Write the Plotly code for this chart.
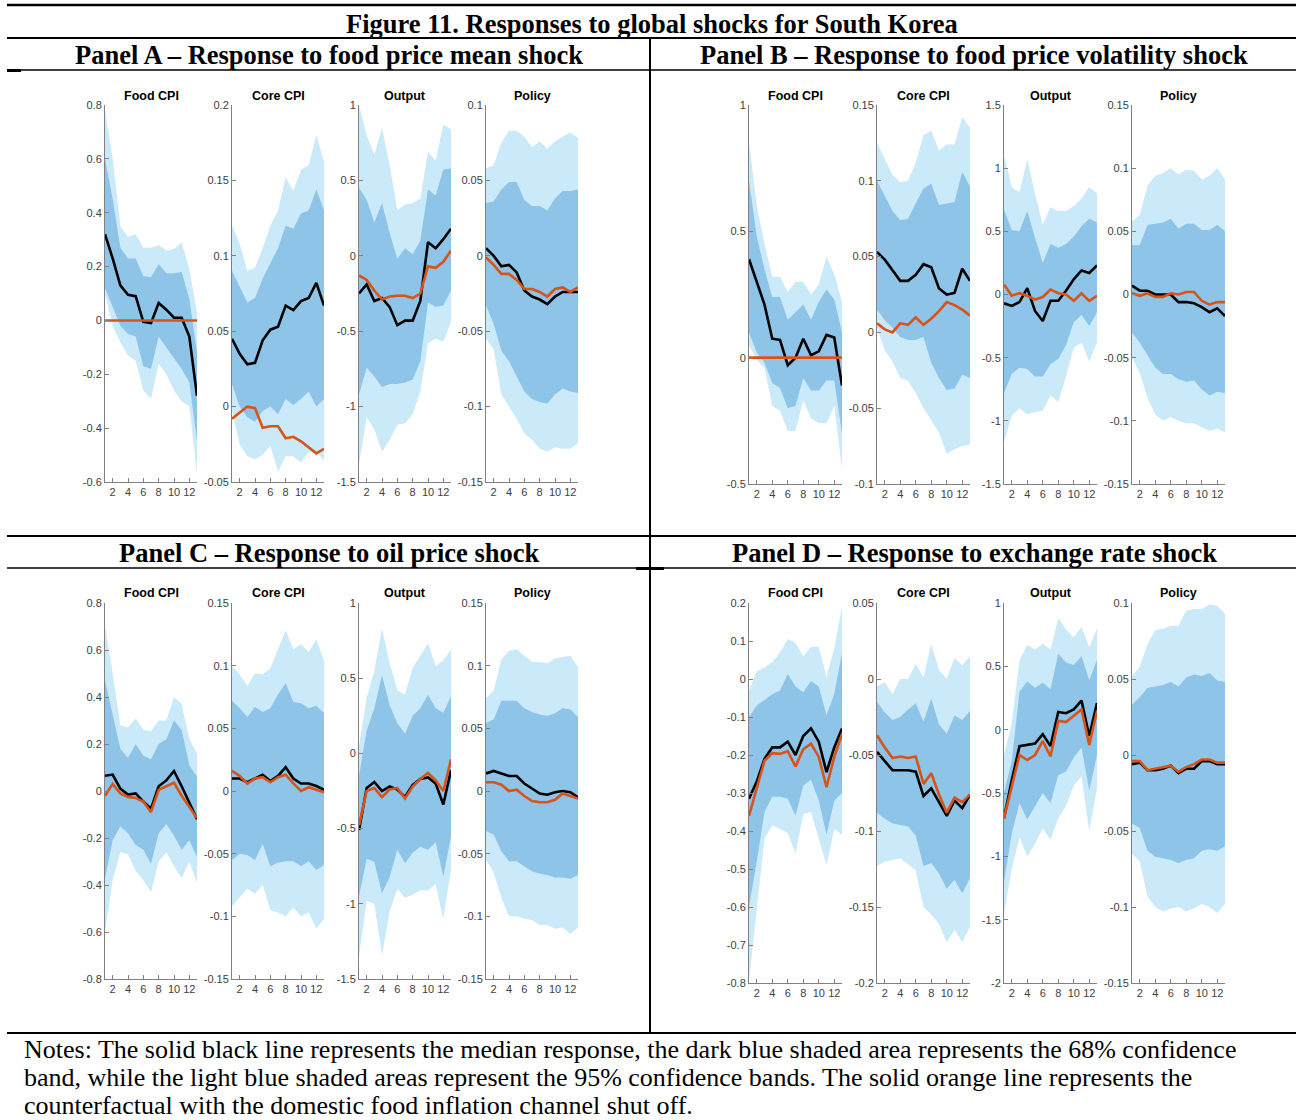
import plotly.graph_objects as go

W, H = 1296, 1120

horizon = list(range(1, 14))
x_tick_vals = [2, 4, 6, 8, 10, 12]

figure_title = "Figure 11. Responses to global shocks for South Korea"
panel_titles = [
    "Panel A – Response to food price mean shock",
    "Panel B – Response to food price volatility shock",
    "Panel C – Response to oil price shock",
    "Panel D – Response to exchange rate shock",
]
variable_titles = ["Food CPI", "Core CPI", "Output", "Policy"]
notes_lines = [
    "Notes: The solid black line represents the median response, the dark blue shaded area represents the 68% confidence",
    "band, while the light blue shaded areas represent the 95% confidence bands. The solid orange line represents the",
    "counterfactual with the domestic food inflation channel shut off.",
]

# ---------------- Panel A: food price mean shock ----------------
A_food_hi95 = [0.78, 0.60, 0.35, 0.31, 0.32, 0.27, 0.27, 0.28, 0.26, 0.265, 0.29, 0.19, 0.03]
A_food_hi68 = [0.60, 0.45, 0.27, 0.23, 0.23, 0.165, 0.16, 0.21, 0.175, 0.175, 0.18, 0.08, -0.12]
A_food_lo68 = [0.12, 0.05, -0.02, -0.05, -0.06, -0.17, -0.18, -0.06, -0.10, -0.14, -0.18, -0.23, -0.45]
A_food_lo95 = [0.10, -0.02, -0.08, -0.13, -0.15, -0.26, -0.29, -0.16, -0.20, -0.26, -0.30, -0.32, -0.57]
A_food_med = [0.32, 0.23, 0.13, 0.095, 0.09, -0.005, -0.01, 0.065, 0.04, 0.01, 0.01, -0.06, -0.28]
A_food_cf = [0, 0, 0, 0, 0, 0, 0, 0, 0, 0, 0, 0, 0]

A_core_hi95 = [0.12, 0.108, 0.09, 0.092, 0.105, 0.12, 0.13, 0.152, 0.143, 0.157, 0.16, 0.18, 0.162]
A_core_hi68 = [0.09, 0.08, 0.069, 0.072, 0.085, 0.095, 0.105, 0.12, 0.118, 0.128, 0.13, 0.144, 0.13]
A_core_lo68 = [0.015, 0.0, -0.007, -0.01, -0.003, 0.0, -0.005, 0.005, 0.001, 0.005, 0.01, 0.0, 0.005]
A_core_lo95 = [-0.002, -0.025, -0.033, -0.035, -0.032, -0.026, -0.043, -0.033, -0.033, -0.037, -0.03, -0.03, -0.036]
A_core_med = [0.045, 0.035, 0.028, 0.029, 0.044, 0.051, 0.053, 0.067, 0.064, 0.07, 0.072, 0.082, 0.067]
A_core_cf = [-0.008, -0.004, 0.0, -0.001, -0.014, -0.013, -0.013, -0.021, -0.02, -0.023, -0.027, -0.031, -0.028]

A_out_hi95 = [1.0, 0.8, 0.67, 0.85, 0.6, 0.3, 0.34, 0.35, 0.38, 0.69, 0.63, 0.87, 0.84]
A_out_hi68 = [0.45, 0.37, 0.22, 0.35, 0.15, -0.02, 0.05, 0.01, 0.1, 0.44, 0.4, 0.57, 0.58]
A_out_lo68 = [-0.92, -0.74, -0.8, -0.87, -0.85, -0.85, -0.84, -0.82, -0.7, -0.31, -0.34, -0.33, -0.23]
A_out_lo95 = [-1.38, -1.07, -1.15, -1.3, -1.22, -1.12, -1.11, -1.05, -0.9, -0.58, -0.55, -0.57, -0.44]
A_out_med = [-0.25, -0.19, -0.3, -0.28, -0.34, -0.46, -0.43, -0.43, -0.3, 0.09, 0.05, 0.11, 0.18]
A_out_cf = [-0.13, -0.16, -0.23, -0.29, -0.27, -0.265, -0.265, -0.28, -0.25, -0.07, -0.08, -0.04, 0.035]

A_pol_hi95 = [0.058, 0.06, 0.075, 0.083, 0.083, 0.079, 0.072, 0.076, 0.071, 0.076, 0.079, 0.082, 0.078]
A_pol_hi68 = [0.035, 0.036, 0.044, 0.049, 0.049, 0.037, 0.033, 0.033, 0.03, 0.038, 0.043, 0.043, 0.044]
A_pol_lo68 = [-0.033, -0.045, -0.063, -0.07, -0.08, -0.09, -0.095, -0.097, -0.098, -0.092, -0.088, -0.09, -0.091]
A_pol_lo95 = [-0.055, -0.062, -0.092, -0.1, -0.108, -0.118, -0.122, -0.128, -0.13, -0.127, -0.128, -0.128, -0.124]
A_pol_med = [0.005, 0.0, -0.007, -0.006, -0.011, -0.023, -0.027, -0.029, -0.032, -0.027, -0.024, -0.024, -0.024]
A_pol_cf = [-0.001, -0.006, -0.012, -0.012, -0.016, -0.022, -0.022, -0.024, -0.027, -0.022, -0.021, -0.024, -0.021]

# ---------------- Panel B: food price volatility shock ----------------
B_food_hi95 = [0.85, 0.6, 0.45, 0.32, 0.32, 0.26, 0.3, 0.3, 0.25, 0.29, 0.4, 0.33, 0.22]
B_food_hi68 = [0.7, 0.48, 0.35, 0.24, 0.24, 0.15, 0.18, 0.21, 0.15, 0.22, 0.27, 0.23, 0.1]
B_food_lo68 = [0.1, 0.02, -0.02, -0.1, -0.12, -0.2, -0.19, -0.08, -0.13, -0.13, -0.09, -0.09, -0.3]
B_food_lo95 = [0.05, -0.01, -0.04, -0.19, -0.21, -0.29, -0.29, -0.17, -0.24, -0.26, -0.26, -0.19, -0.44]
B_food_med = [0.39, 0.3, 0.21, 0.075, 0.07, -0.03, 0.0, 0.075, 0.01, 0.025, 0.09, 0.08, -0.11]
B_food_cf = [0, 0, 0, 0, 0, 0, 0, 0, 0, 0, 0, 0, 0]

B_core_hi95 = [0.125, 0.115, 0.104, 0.099, 0.1, 0.112, 0.13, 0.133, 0.12, 0.124, 0.124, 0.142, 0.135]
B_core_hi68 = [0.1, 0.09, 0.08, 0.074, 0.075, 0.085, 0.095, 0.098, 0.084, 0.085, 0.086, 0.106, 0.096]
B_core_lo68 = [0.015, 0.008, 0.003, -0.003, -0.005, -0.005, -0.003, -0.02, -0.03, -0.038, -0.037, -0.028, -0.03]
B_core_lo95 = [0.003, -0.012, -0.019, -0.03, -0.032, -0.04, -0.05, -0.058, -0.066, -0.08, -0.077, -0.075, -0.074]
B_core_med = [0.053, 0.048, 0.041, 0.034, 0.034, 0.038, 0.045, 0.043, 0.029, 0.025, 0.026, 0.042, 0.034]
B_core_cf = [0.006, 0.002, 0.0, 0.006, 0.005, 0.01, 0.005, 0.009, 0.014, 0.02, 0.018, 0.015, 0.011]

B_out_hi95 = [1.1, 0.85, 0.81, 1.07, 0.8, 0.55, 0.69, 0.66, 0.66, 0.7, 0.76, 0.85, 0.8]
B_out_hi68 = [0.67, 0.51, 0.5, 0.66, 0.45, 0.25, 0.4, 0.37, 0.4, 0.46, 0.54, 0.6, 0.57]
B_out_lo68 = [-0.78, -0.63, -0.58, -0.59, -0.65, -0.65, -0.55, -0.51, -0.4, -0.22, -0.16, -0.25, -0.14]
B_out_lo95 = [-1.17, -0.96, -0.9, -0.95, -0.93, -0.92, -0.8, -0.85, -0.65, -0.42, -0.38, -0.53, -0.38]
B_out_med = [-0.07, -0.09, -0.06, 0.05, -0.13, -0.21, -0.05, -0.05, 0.03, 0.12, 0.19, 0.17, 0.23]
B_out_cf = [0.08, -0.01, 0.01, -0.01, -0.04, -0.02, 0.04, 0.01, 0.0, -0.05, 0.01, -0.05, -0.01]

B_pol_hi95 = [0.058, 0.063, 0.086, 0.094, 0.096, 0.1, 0.095, 0.099, 0.098, 0.091, 0.094, 0.1, 0.091]
B_pol_hi68 = [0.039, 0.039, 0.055, 0.056, 0.057, 0.06, 0.052, 0.056, 0.056, 0.051, 0.051, 0.055, 0.05]
B_pol_lo68 = [-0.03, -0.038, -0.048, -0.058, -0.063, -0.063, -0.067, -0.069, -0.068, -0.075, -0.08, -0.077, -0.078]
B_pol_lo95 = [-0.05, -0.062, -0.082, -0.095, -0.1, -0.097, -0.1, -0.102, -0.102, -0.105, -0.108, -0.106, -0.109]
B_pol_med = [0.007, 0.003, 0.003, 0.0, 0.0, 0.0, -0.006, -0.006, -0.007, -0.01, -0.014, -0.011, -0.017]
B_pol_cf = [0.001, -0.001, 0.001, -0.002, -0.002, 0.001, 0.0, 0.002, 0.002, -0.005, -0.008, -0.006, -0.006]

# ---------------- Panel C: oil price shock ----------------
C_food_hi95 = [0.7, 0.5, 0.28, 0.27, 0.31, 0.26, 0.255, 0.3, 0.3, 0.4, 0.37, 0.22, 0.16]
C_food_hi68 = [0.47, 0.33, 0.18, 0.14, 0.2, 0.15, 0.135, 0.2, 0.22, 0.3, 0.26, 0.11, 0.06]
C_food_lo68 = [-0.37, -0.21, -0.15, -0.18, -0.23, -0.25, -0.31, -0.18, -0.14, -0.19, -0.25, -0.21, -0.28]
C_food_lo95 = [-0.6, -0.38, -0.26, -0.27, -0.34, -0.38, -0.43, -0.3, -0.26, -0.32, -0.37, -0.3, -0.39]
C_food_med = [0.065, 0.07, 0.01, -0.015, -0.01, -0.045, -0.075, 0.02, 0.045, 0.085, 0.02, -0.05, -0.12]
C_food_cf = [-0.02, 0.03, -0.01, -0.025, -0.03, -0.045, -0.09, 0.005, 0.02, 0.035, -0.02, -0.07, -0.115]

C_core_hi95 = [0.1, 0.093, 0.084, 0.094, 0.093, 0.098, 0.113, 0.128, 0.113, 0.117, 0.111, 0.121, 0.104]
C_core_hi68 = [0.072, 0.066, 0.059, 0.067, 0.063, 0.066, 0.077, 0.086, 0.071, 0.07, 0.066, 0.068, 0.062]
C_core_lo68 = [-0.055, -0.05, -0.051, -0.055, -0.042, -0.06, -0.057, -0.056, -0.056, -0.06, -0.056, -0.063, -0.059]
C_core_lo95 = [-0.092, -0.085, -0.078, -0.082, -0.075, -0.095, -0.097, -0.1, -0.093, -0.1, -0.097, -0.11, -0.102]
C_core_med = [0.01, 0.01, 0.007, 0.01, 0.013, 0.008, 0.012, 0.019, 0.01, 0.006, 0.006, 0.004, 0.001]
C_core_cf = [0.016, 0.012, 0.006, 0.01, 0.011, 0.007, 0.011, 0.013, 0.006, 0.0, 0.003, 0.001, -0.001]

C_out_hi95 = [0.05, 0.37, 0.55, 0.83, 0.6, 0.42, 0.39, 0.57, 0.65, 0.73, 0.58, 0.62, 0.69]
C_out_hi68 = [-0.15, 0.15, 0.3, 0.52, 0.32, 0.2, 0.13, 0.25, 0.3, 0.39, 0.3, 0.27, 0.38]
C_out_lo68 = [-0.95, -0.7, -0.72, -0.93, -0.82, -0.64, -0.73, -0.66, -0.62, -0.64, -0.59, -0.82, -0.55]
C_out_lo95 = [-1.35, -0.98, -1.0, -1.34, -1.05, -0.9, -0.96, -0.94, -0.91, -0.91, -0.87, -1.1, -0.77]
C_out_med = [-0.51, -0.23, -0.19, -0.25, -0.22, -0.24, -0.29, -0.21, -0.17, -0.16, -0.2, -0.34, -0.11]
C_out_cf = [-0.48, -0.25, -0.23, -0.29, -0.24, -0.23, -0.3, -0.22, -0.17, -0.13, -0.18, -0.25, -0.04]

C_pol_hi95 = [0.074, 0.08, 0.105, 0.112, 0.113, 0.108, 0.103, 0.103, 0.102, 0.106, 0.107, 0.108, 0.099]
C_pol_hi68 = [0.054, 0.057, 0.072, 0.072, 0.072, 0.066, 0.063, 0.061, 0.06, 0.062, 0.066, 0.065, 0.059]
C_pol_lo68 = [-0.032, -0.035, -0.048, -0.056, -0.056, -0.06, -0.064, -0.066, -0.067, -0.069, -0.069, -0.07, -0.067]
C_pol_lo95 = [-0.055, -0.065, -0.085, -0.1, -0.1, -0.102, -0.103, -0.107, -0.107, -0.11, -0.109, -0.114, -0.109]
C_pol_med = [0.014, 0.016, 0.014, 0.012, 0.012, 0.006, 0.002, -0.002, -0.003, -0.001, 0.0, -0.001, -0.005]
C_pol_cf = [0.007, 0.007, 0.005, 0.0, 0.001, -0.004, -0.008, -0.009, -0.009, -0.007, -0.002, -0.004, -0.006]

# ---------------- Panel D: exchange rate shock ----------------
D_food_hi95 = [-0.03, 0.02, 0.03, 0.045, 0.07, 0.105, 0.095, 0.06, 0.085, 0.085, 0.005, 0.08, 0.19]
D_food_hi68 = [-0.1, -0.07, -0.055, -0.04, -0.03, 0.013, -0.02, -0.035, -0.005, -0.02, -0.095, -0.04, 0.07]
D_food_lo68 = [-0.6, -0.48, -0.35, -0.31, -0.31, -0.315, -0.36, -0.28, -0.265, -0.32, -0.41, -0.32, -0.3]
D_food_lo95 = [-0.79, -0.61, -0.42, -0.385, -0.395, -0.405, -0.46, -0.355, -0.35, -0.42, -0.49, -0.395, -0.41]
D_food_med = [-0.315, -0.27, -0.21, -0.18, -0.18, -0.165, -0.2, -0.15, -0.13, -0.165, -0.245, -0.18, -0.13]
D_food_cf = [-0.36, -0.29, -0.215, -0.195, -0.197, -0.19, -0.23, -0.185, -0.17, -0.205, -0.285, -0.205, -0.145]

D_core_hi95 = [-0.005, -0.002, -0.01, 0.0, 0.0, 0.01, 0.001, 0.023, 0.006, 0.0, 0.014, 0.009, 0.015]
D_core_hi68 = [-0.015, -0.022, -0.027, -0.025, -0.02, -0.016, -0.028, -0.013, -0.03, -0.036, -0.024, -0.027, -0.021]
D_core_lo68 = [-0.088, -0.092, -0.095, -0.096, -0.097, -0.103, -0.123, -0.121, -0.128, -0.138, -0.132, -0.141, -0.131]
D_core_lo95 = [-0.123, -0.12, -0.119, -0.118, -0.122, -0.126, -0.15, -0.155, -0.161, -0.173, -0.165, -0.173, -0.163]
D_core_med = [-0.048, -0.054, -0.06, -0.06, -0.06, -0.061, -0.077, -0.072, -0.081, -0.09, -0.08, -0.085, -0.076]
D_core_cf = [-0.037, -0.045, -0.052, -0.051, -0.052, -0.051, -0.069, -0.062, -0.076, -0.088, -0.078, -0.081, -0.076]

D_out_hi95 = [-0.2, 0.05, 0.55, 0.67, 0.63, 0.68, 0.63, 0.88, 0.79, 0.73, 0.81, 0.65, 0.8]
D_out_hi68 = [-0.5, -0.25, 0.3, 0.38, 0.33, 0.37, 0.32, 0.6, 0.53, 0.51, 0.58, 0.39, 0.55]
D_out_lo68 = [-1.2, -0.82, -0.58, -0.71, -0.61, -0.5, -0.58, -0.36, -0.33, -0.22, -0.14, -0.48, -0.2]
D_out_lo95 = [-1.45, -1.1, -0.85, -1.0, -0.9, -0.78, -0.87, -0.7, -0.6, -0.44, -0.37, -0.8, -0.46]
D_out_med = [-0.7, -0.4, -0.13, -0.12, -0.11, -0.035, -0.13, 0.14, 0.13, 0.16, 0.23, -0.05, 0.21]
D_out_cf = [-0.7, -0.45, -0.2, -0.24, -0.2, -0.09, -0.21, 0.07, 0.06, 0.11, 0.16, -0.12, 0.15]

D_pol_hi95 = [0.052, 0.058, 0.073, 0.082, 0.083, 0.085, 0.085, 0.095, 0.096, 0.096, 0.099, 0.098, 0.093]
D_pol_hi68 = [0.033, 0.038, 0.044, 0.045, 0.046, 0.048, 0.045, 0.051, 0.053, 0.052, 0.054, 0.049, 0.048]
D_pol_lo68 = [-0.045, -0.048, -0.063, -0.067, -0.068, -0.069, -0.071, -0.069, -0.068, -0.063, -0.062, -0.063, -0.06]
D_pol_lo95 = [-0.065, -0.07, -0.093, -0.1, -0.103, -0.101, -0.1, -0.103, -0.101, -0.098, -0.1, -0.104, -0.098]
D_pol_med = [-0.006, -0.005, -0.01, -0.01, -0.009, -0.007, -0.012, -0.009, -0.009, -0.004, -0.004, -0.006, -0.006]
D_pol_cf = [-0.004, -0.004, -0.01, -0.009, -0.008, -0.007, -0.011, -0.008, -0.006, -0.003, -0.003, -0.005, -0.005]

# y-axis ranges and tick steps per panel (Food CPI, Core CPI, Output, Policy)
A_yranges = [[-0.6, 0.8], [-0.05, 0.2], [-1.5, 1.0], [-0.15, 0.1]]
A_ysteps = [0.2, 0.05, 0.5, 0.05]
B_yranges = [[-0.5, 1.0], [-0.1, 0.15], [-1.5, 1.5], [-0.15, 0.15]]
B_ysteps = [0.5, 0.05, 0.5, 0.05]
C_yranges = [[-0.8, 0.8], [-0.15, 0.15], [-1.5, 1.0], [-0.15, 0.15]]
C_ysteps = [0.2, 0.05, 0.5, 0.05]
D_yranges = [[-0.8, 0.2], [-0.2, 0.05], [-2.0, 1.0], [-0.15, 0.1]]
D_ysteps = [0.1, 0.05, 0.5, 0.05]

# ---------------- assemble ----------------
series = {
    "A": [(A_food_hi95, A_food_hi68, A_food_lo68, A_food_lo95, A_food_med, A_food_cf),
          (A_core_hi95, A_core_hi68, A_core_lo68, A_core_lo95, A_core_med, A_core_cf),
          (A_out_hi95, A_out_hi68, A_out_lo68, A_out_lo95, A_out_med, A_out_cf),
          (A_pol_hi95, A_pol_hi68, A_pol_lo68, A_pol_lo95, A_pol_med, A_pol_cf)],
    "B": [(B_food_hi95, B_food_hi68, B_food_lo68, B_food_lo95, B_food_med, B_food_cf),
          (B_core_hi95, B_core_hi68, B_core_lo68, B_core_lo95, B_core_med, B_core_cf),
          (B_out_hi95, B_out_hi68, B_out_lo68, B_out_lo95, B_out_med, B_out_cf),
          (B_pol_hi95, B_pol_hi68, B_pol_lo68, B_pol_lo95, B_pol_med, B_pol_cf)],
    "C": [(C_food_hi95, C_food_hi68, C_food_lo68, C_food_lo95, C_food_med, C_food_cf),
          (C_core_hi95, C_core_hi68, C_core_lo68, C_core_lo95, C_core_med, C_core_cf),
          (C_out_hi95, C_out_hi68, C_out_lo68, C_out_lo95, C_out_med, C_out_cf),
          (C_pol_hi95, C_pol_hi68, C_pol_lo68, C_pol_lo95, C_pol_med, C_pol_cf)],
    "D": [(D_food_hi95, D_food_hi68, D_food_lo68, D_food_lo95, D_food_med, D_food_cf),
          (D_core_hi95, D_core_hi68, D_core_lo68, D_core_lo95, D_core_med, D_core_cf),
          (D_out_hi95, D_out_hi68, D_out_lo68, D_out_lo95, D_out_med, D_out_cf),
          (D_pol_hi95, D_pol_hi68, D_pol_lo68, D_pol_lo95, D_pol_med, D_pol_cf)],
}
yranges = {"A": A_yranges, "B": B_yranges, "C": C_yranges, "D": D_yranges}
ysteps = {"A": A_ysteps, "B": B_ysteps, "C": C_ysteps, "D": D_ysteps}

# layout geometry in pixels
geometry = {
    "A": dict(lefts=[105, 232, 359, 486], width=92, top=105, bottom=482, sub_y=96, title_x=329, title_y=55),
    "B": dict(lefts=[749, 877, 1004, 1132], width=93, top=105, bottom=484, sub_y=96, title_x=974, title_y=55),
    "C": dict(lefts=[105, 232, 359, 486], width=92, top=603, bottom=979, sub_y=593, title_x=329, title_y=553),
    "D": dict(lefts=[749, 877, 1004, 1132], width=93, top=603, bottom=983, sub_y=593, title_x=974, title_y=553),
}

LIGHT = "#CAE9F9"
DARK = "#8DC4E7"
BLACK = "#000000"
ORANGE = "#D95319"
AXIS = "#808080"
TICKFONT = dict(family="Liberation Sans, Arial, sans-serif", size=11, color="#404040")


def px(xp):
    return xp / W


def py(yp):
    return 1 - yp / H


def fmt(v):
    s = f"{v:.3f}".rstrip("0").rstrip(".")
    return "0" if s in ("-0", "0", "") else s


fig = go.Figure()
annotations = []
layout_axes = {}
idx = 0
for key, g in geometry.items():
    for j in range(4):
        idx += 1
        hi95, hi68, lo68, lo95, med, cf = series[key][j]
        xa = "x" if idx == 1 else f"x{idx}"
        ya = "y" if idx == 1 else f"y{idx}"
        poly_x = horizon + horizon[::-1]
        fig.add_trace(go.Scatter(x=poly_x, y=list(hi95) + list(lo95)[::-1], fill="toself",
                                 fillcolor=LIGHT, line=dict(width=0, color=LIGHT), mode="lines",
                                 hoverinfo="skip", showlegend=False, xaxis=xa, yaxis=ya))
        fig.add_trace(go.Scatter(x=poly_x, y=list(hi68) + list(lo68)[::-1], fill="toself",
                                 fillcolor=DARK, line=dict(width=0, color=DARK), mode="lines",
                                 hoverinfo="skip", showlegend=False, xaxis=xa, yaxis=ya))
        fig.add_trace(go.Scatter(x=horizon, y=med, mode="lines", line=dict(color=BLACK, width=2.6),
                                 showlegend=False, xaxis=xa, yaxis=ya))
        fig.add_trace(go.Scatter(x=horizon, y=cf, mode="lines", line=dict(color=ORANGE, width=2.6),
                                 showlegend=False, xaxis=xa, yaxis=ya))

        lo, hi = yranges[key][j]
        step = ysteps[key][j]
        n = int(round((hi - lo) / step))
        tv = [round(lo + k * step, 6) for k in range(n + 1)]
        left = g["lefts"][j]
        x0, x1 = px(left), px(left + g["width"])
        y0, y1 = py(g["bottom"]), py(g["top"])
        xname = "xaxis" if idx == 1 else f"xaxis{idx}"
        yname = "yaxis" if idx == 1 else f"yaxis{idx}"
        layout_axes[xname] = dict(domain=[x0, x1], anchor=ya, range=[1, 13], tickvals=x_tick_vals,
                                  ticktext=[str(v) for v in x_tick_vals], ticks="inside", ticklen=4,
                                  tickcolor=AXIS, showline=True, linecolor=AXIS, linewidth=1,
                                  showgrid=False, zeroline=False, tickfont=TICKFONT, fixedrange=True,
                                  automargin=False)
        layout_axes[yname] = dict(domain=[y0, y1], anchor=xa, range=[lo, hi], tickvals=tv,
                                  ticktext=[fmt(v) for v in tv], ticks="inside", ticklen=4,
                                  tickcolor=AXIS, showline=True, linecolor=AXIS, linewidth=1,
                                  showgrid=False, zeroline=False, tickfont=TICKFONT, fixedrange=True,
                                  automargin=False)
        annotations.append(dict(text=f"<b>{variable_titles[j]}</b>", x=(x0 + x1) / 2, y=py(g["sub_y"]),
                                xref="paper", yref="paper", showarrow=False, xanchor="center",
                                yanchor="middle",
                                font=dict(family="Liberation Sans, Arial, sans-serif", size=12.5,
                                          color="#000000")))

SERIF = "Liberation Serif, Times New Roman, serif"
annotations.append(dict(text=f"<b>{figure_title}</b>", x=px(652), y=py(24), xref="paper", yref="paper",
                        showarrow=False, xanchor="center", yanchor="middle",
                        font=dict(family=SERIF, size=26.5, color="#000000")))
for pk, t in zip(["A", "B", "C", "D"], panel_titles):
    g = geometry[pk]
    annotations.append(dict(text=f"<b>{t}</b>", x=px(g["title_x"]), y=py(g["title_y"]), xref="paper",
                            yref="paper", showarrow=False, xanchor="center", yanchor="middle",
                            font=dict(family=SERIF, size=26.5, color="#000000")))
for k, line in enumerate(notes_lines):
    annotations.append(dict(text=line, x=px(22), y=py(1049 + 28 * k), xref="paper", yref="paper",
                            showarrow=False, xanchor="left", yanchor="middle",
                            font=dict(family=SERIF, size=26, color="#000000")))


def hline(yp, xa, xb, w=2):
    return dict(type="line", xref="paper", yref="paper", x0=px(xa), x1=px(xb), y0=py(yp), y1=py(yp),
                line=dict(color="#000000", width=w))


shapes = [
    hline(5, 7, 1296, 2.5),
    hline(38, 7, 1296, 2),
    hline(70, 7, 1296, 1.5),
    hline(70.5, 7, 21, 3),
    hline(536, 7, 1296, 2),
    hline(568, 7, 1296, 1.5),
    hline(568.5, 636, 664, 3),
    hline(1033, 7, 1296, 2),
    dict(type="line", xref="paper", yref="paper", x0=px(650), x1=px(650), y0=py(38), y1=py(1033),
         line=dict(color="#000000", width=2)),
]

fig.update_layout(width=W, height=H, autosize=False, margin=dict(l=0, r=0, t=0, b=0, pad=0),
                  paper_bgcolor="white", plot_bgcolor="rgba(0,0,0,0)", showlegend=False,
                  annotations=annotations, shapes=shapes, **layout_axes)

fig.write_html("out.html", config={"displayModeBar": False},
               post_script="document.body.style.margin='0';document.body.style.overflow='hidden';")
